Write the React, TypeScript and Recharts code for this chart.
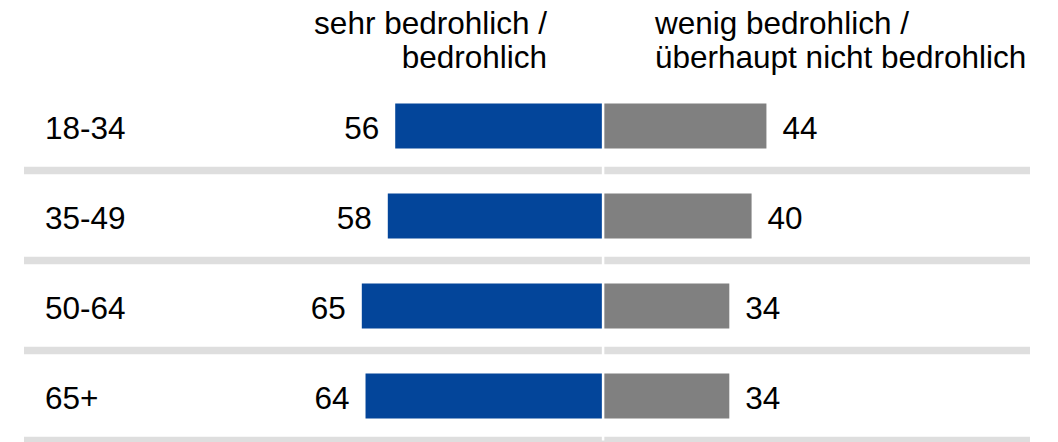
import React from "react";
import { BarChart, Bar, XAxis, YAxis, ReferenceLine, LabelList } from "recharts";

const ageGroups = ["18-34", "35-49", "50-64", "65+"];
const threatening = [56, 58, 65, 64];
const notThreatening = [44, 40, 34, 34];
const headerLeft = ["sehr bedrohlich /", "bedrohlich"];
const headerRight = ["wenig bedrohlich /", "überhaupt nicht bedrohlich"];

const BLUE = "#03459a";
const GREY = "#808080";
const RULE = "#dedede";
const FONT = '"Liberation Sans", Arial, sans-serif';
const FS = 31.5;

const data = ageGroups.map((g, i) => ({
  group: g,
  threat: -threatening[i],
  noThreat: notThreatening[i],
}));

// labels sit outside the bar end, whichever way the bar points
function valueLabel(side: "left" | "right") {
  return (props: any) => {
    const x = Number(props.x), w = Number(props.width);
    const y = Number(props.y), h = Number(props.height);
    const x0 = Math.min(x, x + w);
    const x1 = Math.max(x, x + w);
    return (
      <text
        x={side === "left" ? x0 - 16 : x1 + 16}
        y={y + h / 2 + 13}
        textAnchor={side === "left" ? "end" : "start"}
        fontSize={FS}
        fontFamily={FONT}
        fill="#000"
      >
        {Math.abs(props.value)}
      </text>
    );
  };
}

// age group name at the left edge of the row
const groupLabel = (props: any) => (
  <text x={45} y={Number(props.y) + Number(props.height) / 2 + 13} fontSize={FS} fontFamily={FONT} fill="#000">
    {props.value}
  </text>
);

export default function App() {
  const head: React.CSSProperties = {
    position: "absolute",
    top: 6,
    fontSize: FS,
    lineHeight: "34px",
    fontFamily: FONT,
    color: "#000",
    whiteSpace: "nowrap",
  };
  return (
    <div style={{ position: "absolute", left: 0, top: 0, width: 1058, height: 442, background: "#fff" }}>
      <BarChart
        width={1058}
        height={442}
        data={data}
        layout="vertical"
        stackOffset="sign"
        barSize={45}
        margin={{ top: 80.5, right: 28, bottom: 1.5, left: 24 }}
      >
        <XAxis type="number" domain={[-156, 115]} hide />
        <YAxis type="category" dataKey="group" width={0} hide />
        {ageGroups.map((g) => (
          <ReferenceLine key={g} y={g} position="end" stroke={RULE} strokeWidth={7.5} />
        ))}
        <Bar dataKey="threat" stackId="a" fill={BLUE} isAnimationActive={false}>
          <LabelList dataKey="threat" content={valueLabel("left")} />
          <LabelList dataKey="group" content={groupLabel} />
        </Bar>
        <Bar dataKey="noThreat" stackId="a" fill={GREY} isAnimationActive={false}>
          <LabelList dataKey="noThreat" content={valueLabel("right")} />
        </Bar>
        <ReferenceLine x={0} stroke="#fff" strokeWidth={2.5} />
      </BarChart>
      <div style={{ ...head, right: 1058 - 547, textAlign: "right" }}>
        {headerLeft.map((t) => (
          <div key={t}>{t}</div>
        ))}
      </div>
      <div style={{ ...head, left: 655, textAlign: "left" }}>
        {headerRight.map((t) => (
          <div key={t}>{t}</div>
        ))}
      </div>
    </div>
  );
}
